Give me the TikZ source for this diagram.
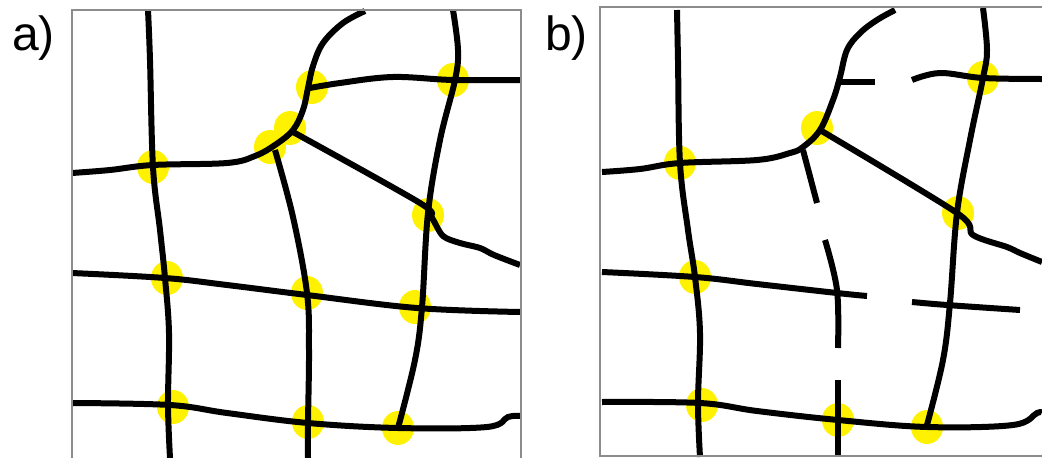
\documentclass[tikz,border=0pt]{standalone}
\usepackage{fontspec}
\setmainfont{Liberation Sans}
\begin{document}
\begin{tikzpicture}[x=1pt,y=-1pt,
  road/.style={line width=6pt,black},
  frame/.style={line width=1.2pt,black!45},
  hot/.style={fill={rgb,255:red,255;green,242;blue,0}},
  lbl/.style={anchor=base west,inner sep=0pt,font=\fontsize{48}{50}\selectfont}]
\useasboundingbox (0,0) rectangle (1042,458);
% ---------- panel a ----------
\node[lbl] (la) at (12,50) {a)};
\foreach \p in {(153,167),(167,278),(173,407),(307,293),(308,422),(398,428),(415,307),(428,215),(453,80),(312,87),(290,128),(270,147)}
  \fill[hot] \p ellipse (16 and 17);
\draw[road] plot[smooth,tension=0.6] coordinates {(148,10) (150,60) (153,167) (160,230) (165,278) (169,333) (168,405) (170,458)};
\draw[road] plot[smooth,tension=0.6] coordinates {(72,173) (110,170) (153,165) (227,163) (255,156) (275,145) (293,130) (303,110) (308,88) (313,66) (323,43) (343,23) (365,11)};
\draw[road] plot[smooth,tension=0.6] coordinates {(275,150) (293,217) (307,293) (309,350) (308,423) (308,458)};
\draw[road] plot[smooth,tension=0.5] coordinates {(293,132) (420,203) (432,218) (443,236) (460,243) (480,248) (494,255) (520,265)};
\draw[road] plot[smooth,tension=0.6] coordinates {(310,88) (340,83) (393,77) (453,80) (520,80)};
\draw[road] plot[smooth,tension=0.6] coordinates {(453,10) (458,50) (455,80) (440,140) (428,213) (422,307) (415,360) (398,428)};
\draw[road] plot[smooth,tension=0.6] coordinates {(72,273) (165,278) (227,285) (307,295) (417,308) (520,312)};
\draw[road] plot[smooth,tension=0.6] coordinates {(72,403) (170,405) (227,413) (308,423) (398,428) (487,427) (508,417) (520,416)};
\draw[frame] (72,458) -- (72,10) -- (521,10) -- (521,458);
% ---------- panel b ----------
\node[lbl] (lb) at (545,50) {b)};
\foreach \p in {(680,163),(695,277),(702,405),(817,128),(983,78),(958,213),(838,420),(927,427)}
  \fill[hot] \p ellipse (16 and 17);
\draw[road] plot[smooth,tension=0.6] coordinates {(677,10) (678,60) (680,163) (688,230) (695,277) (700,333) (698,403) (700,457)};
\draw[road] plot[smooth,tension=0.6] coordinates {(602,172) (640,169) (680,163) (757,160) (790,153) (803,147) (820,130) (833,100) (840,77) (847,50) (860,33) (877,20) (895,10)};
\draw[road] plot[smooth,tension=0.6] coordinates {(803,150) (817,203)};
\draw[road] plot[smooth,tension=0.6] coordinates {(825,240) (837,290) (838,348)};
\draw[road] (838,380) -- (838,457);
\draw[road] plot[smooth,tension=0.5] coordinates {(820,130) (957,213) (973,235) (1007,247) (1020,253) (1042,262)};
\draw[road] (840,82) -- (875,82);
\draw[road] plot[smooth,tension=0.6] coordinates {(912,80) (940,73) (983,78) (1042,79)};
\draw[road] plot[smooth,tension=0.6] coordinates {(983,8) (987,50) (983,78) (970,140) (957,213) (950,303) (943,360) (927,425)};
\draw[road] plot[smooth,tension=0.6] coordinates {(602,272) (695,277) (757,284) (837,293) (867,296)};
\draw[road] plot[smooth,tension=0.6] coordinates {(912,302) (947,305) (1020,310)};
\draw[road] plot[smooth,tension=0.6] coordinates {(602,402) (700,403) (757,411) (838,420) (927,427) (1013,425) (1037,413) (1042,413)};
\draw[frame] (1042,7) -- (600,7) -- (600,456) -- (1042,456);
\end{tikzpicture}
\end{document}
